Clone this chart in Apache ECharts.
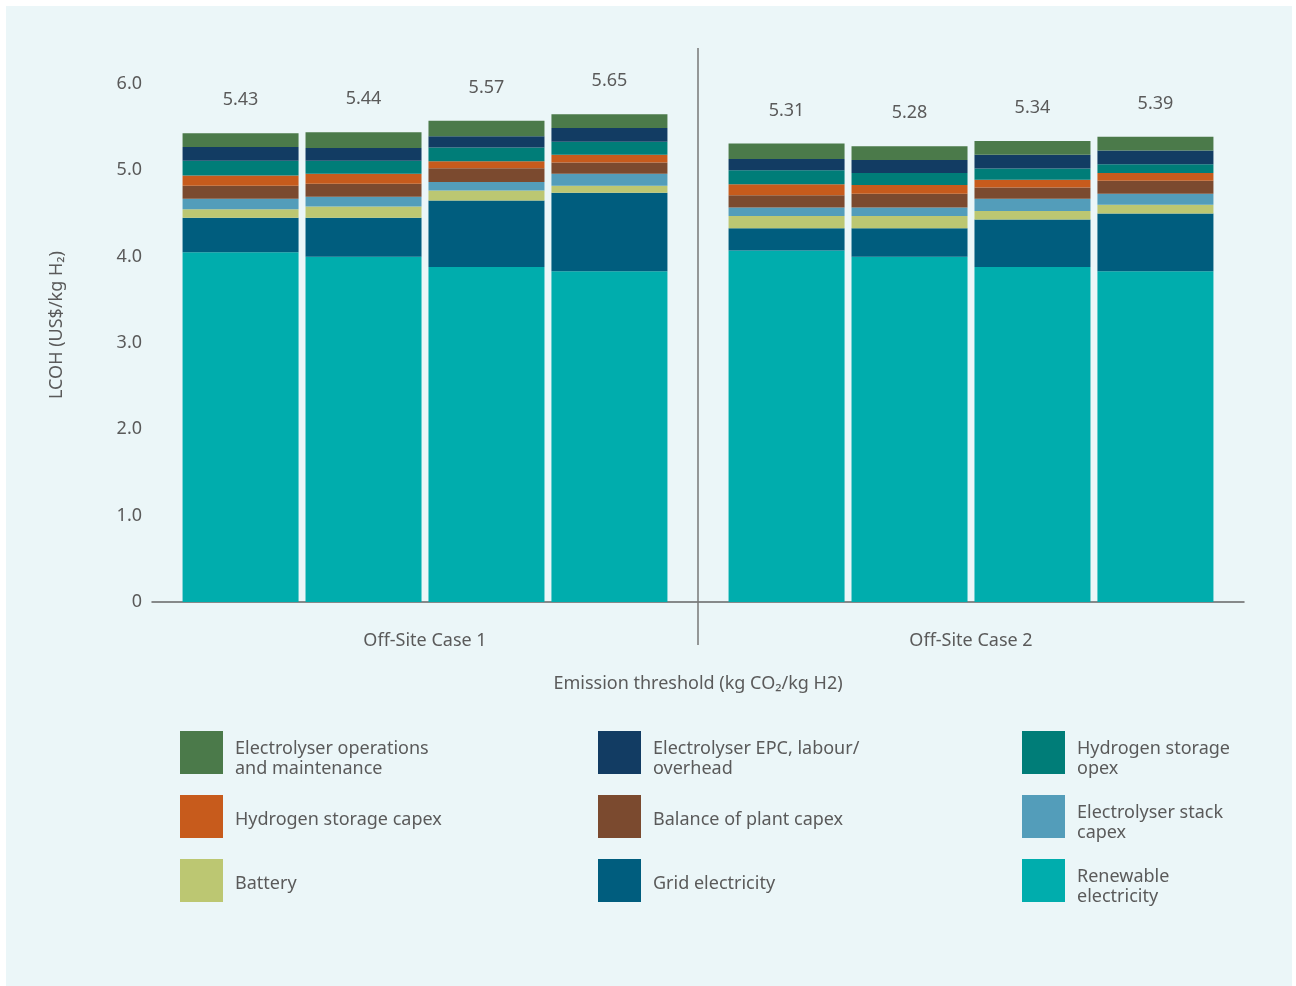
<!DOCTYPE html>
<html>
<head>
<meta charset="utf-8">
<script src="https://cdn.jsdelivr.net/npm/echarts@6/dist/echarts.min.js"></script>
<style>
  html, body { margin: 0; padding: 0; background: #ffffff; }
  #panel { position: absolute; left: 6px; top: 6px; width: 1286px; height: 980px; background: #EBF6F8; }
  #chart { position: absolute; left: 0; top: 0; width: 1296px; height: 986px; }
</style>
</head>
<body>
<div id="panel"></div>
<div id="chart"></div>
<script>
// ---- data ----
const cases = ['Off-Site Case 1', 'Off-Site Case 2'];
const barsPerCase = 4;
const totalLabels = ['5.43', '5.44', '5.57', '5.65', '5.31', '5.28', '5.34', '5.39'];
const yTicks = ['0', '1.0', '2.0', '3.0', '4.0', '5.0', '6.0'];

// bars 1-4 = Case 1, bars 5-8 = Case 2 (bottom to top stacking order)
const renewableElectricity = [4.05, 4.00, 3.88, 3.83, 4.07, 4.00, 3.88, 3.83];
const gridElectricity      = [0.40, 0.45, 0.77, 0.91, 0.26, 0.33, 0.55, 0.67];
const battery              = [0.10, 0.13, 0.115, 0.08, 0.14, 0.14, 0.10, 0.10];
const stackCapex           = [0.12, 0.115, 0.10, 0.14, 0.10, 0.10, 0.14, 0.13];
const bopCapex             = [0.15, 0.15, 0.16, 0.13, 0.14, 0.16, 0.13, 0.15];
const h2StorageCapex       = [0.12, 0.115, 0.08, 0.09, 0.13, 0.10, 0.09, 0.09];
const h2StorageOpex        = [0.17, 0.15, 0.16, 0.15, 0.16, 0.14, 0.13, 0.10];
const epcLabour            = [0.16, 0.15, 0.13, 0.16, 0.13, 0.15, 0.16, 0.16];
const operationsMaint      = [0.16, 0.18, 0.18, 0.16, 0.18, 0.16, 0.16, 0.16];

const segmentNames = [
  'Renewable electricity', 'Grid electricity', 'Battery', 'Electrolyser stack capex',
  'Balance of plant capex', 'Hydrogen storage capex', 'Hydrogen storage opex',
  'Electrolyser EPC, labour/overhead', 'Electrolyser operations and maintenance'
];
const segmentValues = [renewableElectricity, gridElectricity, battery, stackCapex, bopCapex,
  h2StorageCapex, h2StorageOpex, epcLabour, operationsMaint];
const segmentColors = ['#00ADAD', '#005D7E', '#BCC772', '#539DBA', '#7B4A2F',
  '#C75B1C', '#007D78', '#123C63', '#4B7A4A'];

const legendCols = [
  ['Electrolyser operations and maintenance', 'Hydrogen storage capex', 'Battery'],
  ['Electrolyser EPC, labour/overhead', 'Balance of plant capex', 'Grid electricity'],
  ['Hydrogen storage opex', 'Electrolyser stack capex', 'Renewable electricity']
];
const legendText = {
  'Electrolyser operations and maintenance': 'Electrolyser operations\nand maintenance',
  'Electrolyser EPC, labour/overhead': 'Electrolyser EPC, labour/\noverhead',
  'Hydrogen storage opex': 'Hydrogen storage\nopex',
  'Electrolyser stack capex': 'Electrolyser stack\ncapex',
  'Renewable electricity': 'Renewable\nelectricity'
};

// ---- chart ----
const FONT = '"Noto Sans", sans-serif';
const TXT = '#5a5a5a';
const gridL = 152, gridR = 52, gridT = 84, gridB = 384;

const series = [];
segmentNames.forEach((name, s) => {
  for (let b = 0; b < barsPerCase; b++) {
    const vals = segmentValues[s];
    const isTop = s === segmentNames.length - 1;
    series.push({
      name: name,
      type: 'bar',
      stack: 'bar' + b,
      barWidth: 116,
      barGap: '6%',
      itemStyle: { color: segmentColors[s] },
      emphasis: { disabled: true },
      data: cases.map((c, ci) => vals[ci * barsPerCase + b]),
      label: isTop ? {
        show: true, position: 'top', distance: 24,
        fontFamily: FONT, fontSize: 18, color: TXT,
        formatter: p => totalLabels[p.dataIndex * barsPerCase + b]
      } : { show: false }
    });
  }
});

function legendLabel(n) {
  const lines = (legendText[n] || n).split('\n');
  if (lines.length === 2) {
    return '{a2| }\n{t|' + lines[0] + '}\n{t|' + lines[1] + '}\n{c2| }';
  }
  return '{a1| }\n{t|' + lines[0] + '}\n{c1| }';
}

const legends = legendCols.map((col, i) => ({
  orient: 'vertical',
  left: [180, 598, 1022][i],
  top: 724.5,
  padding: 0,
  icon: 'rect',
  itemWidth: 43,
  itemHeight: 43,
  itemGap: 8,
  selectedMode: false,
  data: col,
  formatter: legendLabel,
  textStyle: {
    fontFamily: FONT, fontSize: 18, color: TXT, lineHeight: 20, padding: [0, 0, 0, 7],
    rich: {
      t: { fontFamily: FONT, fontSize: 18, color: TXT, lineHeight: 20 },
      a2: { fontSize: 1, lineHeight: 14 },
      c2: { fontSize: 1, lineHeight: 2 },
      a1: { fontSize: 1, lineHeight: 21 },
      c1: { fontSize: 1, lineHeight: 15 }
    }
  }
}));

const chart = echarts.init(document.getElementById('chart'), null, { renderer: 'canvas' });
const midX = gridL + (1296 - gridL - gridR) / 2;
chart.setOption({
  animation: false,
  backgroundColor: 'transparent',
  textStyle: { fontFamily: FONT },
  grid: { left: gridL, right: gridR, top: gridT, bottom: gridB },
  legend: legends,
  xAxis: {
    type: 'category',
    data: cases,
    axisLine: { show: true, lineStyle: { color: '#666', width: 1.5 } },
    axisTick: { show: false },
    axisLabel: { fontFamily: FONT, fontSize: 18, color: TXT, margin: 30 },
    name: 'Emission threshold (kg CO\u2082/kg H2)',
    nameLocation: 'middle',
    nameGap: 73,
    nameTextStyle: { fontFamily: FONT, fontSize: 18, color: TXT }
  },
  yAxis: {
    type: 'value',
    min: 0, max: 6, interval: 1,
    axisLine: { show: false },
    axisTick: { show: false },
    splitLine: { show: false },
    axisLabel: {
      fontFamily: FONT, fontSize: 18, color: TXT, margin: 10,
      formatter: v => yTicks[Math.round(v)]
    },
    name: 'LCOH (US$/kg H\u2082)',
    nameLocation: 'middle',
    nameGap: 86,
    nameRotate: 90,
    nameTextStyle: { fontFamily: FONT, fontSize: 18, color: TXT, padding: [0, 0, 0, 36] }
  },
  graphic: [{
    type: 'line',
    z: 10,
    shape: { x1: midX, y1: 48, x2: midX, y2: 645 },
    style: { stroke: '#777', lineWidth: 1.5 }
  }],
  series: series
});
</script>
</body>
</html>
